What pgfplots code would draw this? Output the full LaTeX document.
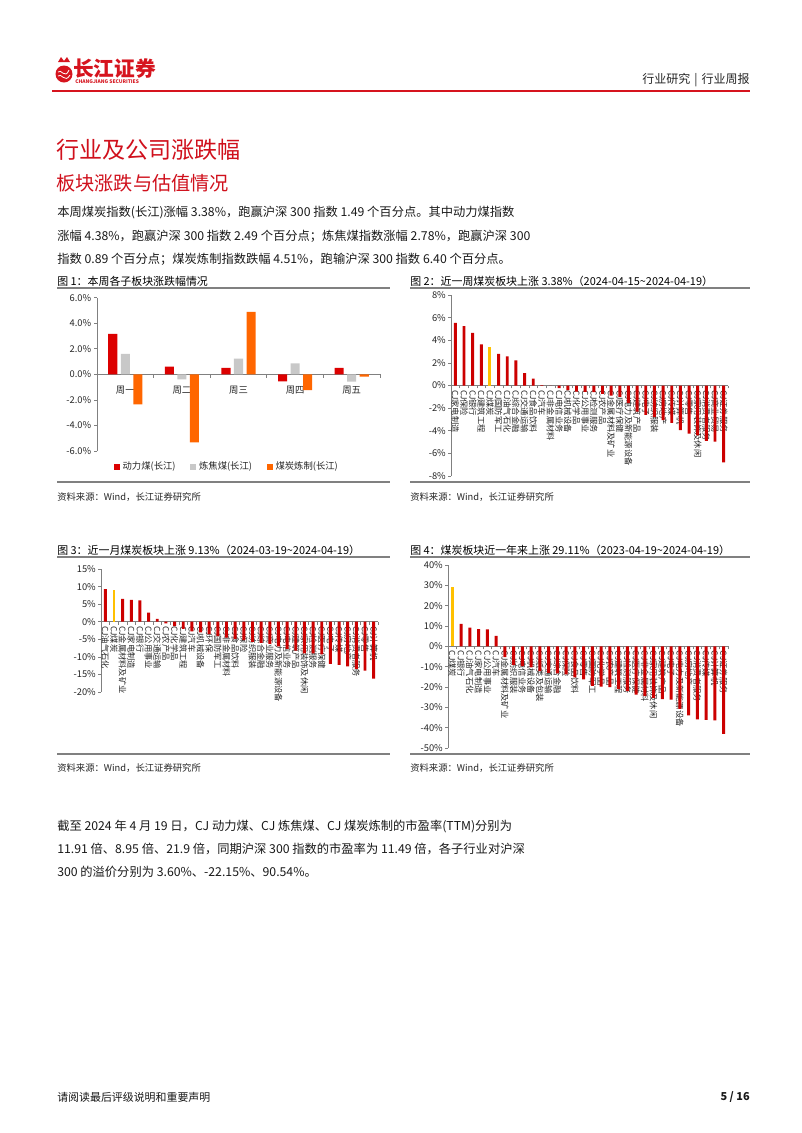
\documentclass[border=0pt]{standalone}
\usepackage{fontspec}
\setmainfont{Noto Sans CJK SC}
\usepackage{pgfplots}
\pgfplotsset{compat=1.18}
\definecolor{cjred}{RGB}{204,0,0}
\definecolor{f1red}{RGB}{220,0,0}
\definecolor{f1gray}{RGB}{200,200,200}
\definecolor{f1orange}{RGB}{255,102,0}
\definecolor{cjyellow}{RGB}{255,192,0}
\definecolor{titlered}{RGB}{208,16,28}
\definecolor{logored}{RGB}{214,20,30}
\definecolor{axgray}{RGB}{128,128,128}
\pgfplotsset{
  cjbar/.style={
    scale only axis, anchor=south west, clip=false,
    axis y line=left, axis x line=middle,
    axis line style={-, draw=axgray, line width=0.6pt},
    hide obscured x ticks=false, hide obscured y ticks=false,
    tick align=outside,
    major tick length=2.2pt, minor tick length=2.2pt,
    tick style={draw=axgray, line width=0.5pt},
    major x tick style={draw=none},
    yticklabel style={font=\fontsize{7}{8}\selectfont, text=black!85, inner sep=1.5pt},
    xticklabel style={font=\fontsize{6.2}{7}\selectfont, rotate=-90, anchor=west, inner sep=1pt, text=black!85},
    xmin=-0.5, xmax=31.5, xtick={0,...,31}, minor xtick={-0.5,0.5,...,31.5},
  }
}
\newcommand{\srcfont}{\fontsize{7}{8}\selectfont}
\newcommand{\figfont}{\fontsize{8.2}{9}\selectfont}
\newcommand{\bodyfont}{\fontsize{9.2}{10}\selectfont}
\begin{document}
\begin{tikzpicture}
\useasboundingbox (0,0) rectangle (601.5pt,-849.75pt);
\fill[white] (0,0) rectangle (601.5pt,-849.75pt);
\begin{scope}[x=0.75pt,y=-0.75pt]
  % header
  \fill[logored] (64,74) circle (8.5);
  \fill[logored] (58,62) -- (61,57) -- (64,61) -- (67,57) -- (70,62) -- cycle;
  \draw[white, line width=0.6pt] (58,72) .. controls (61,68) and (65,80) .. (69,70);
  \draw[white, line width=0.6pt] (58,76) .. controls (61,72) and (65,84) .. (70,75);
  \node[anchor=west, text=logored, font=\fontsize{15.5}{16}\selectfont\bfseries, inner sep=0] at (73,69) {长江证券};
  \node[anchor=west, text=logored, font=\fontsize{3.7}{4}\selectfont\bfseries, inner sep=0] at (75,82) {CHANGJIANG SECURITIES};
  \node[anchor=east, font=\fontsize{9}{10}\selectfont, text=black!85, inner sep=0] at (750,80) {行业研究\hspace{3pt}|\hspace{3pt}行业周报};
  \draw[logored, line width=1.6pt] (52,91) -- (750,91);
  % titles
  \node[anchor=west, text=titlered, font=\fontsize{17.3}{18}\selectfont, inner sep=0] at (56,150) {行业及公司涨跌幅};
  \node[anchor=west, text=titlered, font=\fontsize{14.4}{15}\selectfont, inner sep=0] at (56,183) {板块涨跌与估值情况};
  \node[anchor=west, font=\bodyfont, text=black!90, inner sep=0] at (57,212) {本周煤炭指数(长江)涨幅 3.38\%，跑赢沪深 300 指数 1.49 个百分点。其中动力煤指数};
  \node[anchor=west, font=\bodyfont, text=black!90, inner sep=0] at (57,236) {涨幅 4.38\%，跑赢沪深 300 指数 2.49 个百分点；炼焦煤指数涨幅 2.78\%，跑赢沪深 300};
  \node[anchor=west, font=\bodyfont, text=black!90, inner sep=0] at (57,259) {指数 0.89 个百分点；煤炭炼制指数跌幅 4.51\%，跑输沪深 300 指数 6.40 个百分点。};
  % figure frames
  \node[anchor=west, font=\figfont, inner sep=0] at (57,281) {图 1：本周各子板块涨跌幅情况};
  \draw[axgray, line width=1pt] (57,288) -- (390,288);
  \draw[axgray, line width=1pt] (57,482) -- (390,482);
  \node[anchor=west, font=\srcfont, text=black!85, inner sep=0] at (57,497) {资料来源：Wind，长江证券研究所};
  \node[anchor=west, font=\figfont, inner sep=0] at (410,281) {图 2：近一周煤炭板块上涨 3.38\%（2024-04-15\textasciitilde2024-04-19）};
  \draw[axgray, line width=1pt] (410,288) -- (750,288);
  \draw[axgray, line width=1pt] (410,482) -- (750,482);
  \node[anchor=west, font=\srcfont, text=black!85, inner sep=0] at (410,497) {资料来源：Wind，长江证券研究所};
  \node[anchor=west, font=\figfont, inner sep=0] at (57,550) {图 3：近一月煤炭板块上涨 9.13\%（2024-03-19\textasciitilde2024-04-19）};
  \draw[axgray, line width=1pt] (57,557) -- (390,557);
  \draw[axgray, line width=1pt] (57,754) -- (390,754);
  \node[anchor=west, font=\srcfont, text=black!85, inner sep=0] at (57,768) {资料来源：Wind，长江证券研究所};
  \node[anchor=west, font=\figfont, inner sep=0] at (410,550) {图 4：煤炭板块近一年来上涨 29.11\%（2023-04-19\textasciitilde2024-04-19）};
  \draw[axgray, line width=1pt] (410,557) -- (750,557);
  \draw[axgray, line width=1pt] (410,754) -- (750,754);
  \node[anchor=west, font=\srcfont, text=black!85, inner sep=0] at (410,768) {资料来源：Wind，长江证券研究所};
  % second paragraph
  \node[anchor=west, font=\bodyfont, text=black!90, inner sep=0] at (57,826) {截至 2024 年 4 月 19 日，CJ 动力煤、CJ 炼焦煤、CJ 煤炭炼制的市盈率(TTM)分别为};
  \node[anchor=west, font=\bodyfont, text=black!90, inner sep=0] at (57,849) {11.91 倍、8.95 倍、21.9 倍，同期沪深 300 指数的市盈率为 11.49 倍，各子行业对沪深};
  \node[anchor=west, font=\bodyfont, text=black!90, inner sep=0] at (57,872) {300 的溢价分别为 3.60\%、-22.15\%、90.54\%。};
  % footer
  \node[anchor=west, font=\figfont, text=black!90, inner sep=0] at (57,1097) {请阅读最后评级说明和重要声明};
  \node[anchor=east, font=\figfont\bfseries, text=black!90, inner sep=0] at (750,1097) {5 / 16};
\end{scope}

% ---------------- Figure 1 ----------------
\begin{axis}[
  at={(72.75pt,-338.25pt)}, anchor=south west, scale only axis, clip=false,
  width=212.25pt, height=115pt,
  xmin=-0.5, xmax=4.5, ymin=-6, ymax=6,
  axis y line=left, axis x line=middle,
  axis line style={-, draw=axgray, line width=0.6pt},
  hide obscured x ticks=false, hide obscured y ticks=false,
  tick align=outside, major tick length=2.2pt, minor tick length=2.5pt,
  tick style={draw=axgray, line width=0.5pt},
  major x tick style={draw=none},
  ytick={-6,-4,...,6},
  yticklabels={-6.0\%,-4.0\%,-2.0\%,0.0\%,2.0\%,4.0\%,6.0\%},
  yticklabel style={font=\fontsize{7}{8}\selectfont, text=black!85, inner sep=2pt},
  xtick={0,...,4}, minor xtick={0.5,1.5,2.5,3.5,4.5},
  xticklabels={周一,周二,周三,周四,周五},
  xticklabel style={font=\fontsize{7}{8}\selectfont, text=black!85, yshift=-3pt},
  legend style={at={(0.46,-0.035)}, anchor=north, draw=none, fill=none,
    legend columns=3, font=\fontsize{7}{8}\selectfont, text=black!85,
    /tikz/every even column/.append style={column sep=9pt}},
]
\addplot[ybar, bar width=6.8pt, bar shift=-9.4pt, fill=f1red, draw=none,
  legend image code/.code={\fill[f1red] (0pt,-2.2pt) rectangle (4.6pt,2.4pt);}]
  coordinates {(0,3.16) (1,0.60) (2,0.50) (3,-0.55) (4,0.50)};
\addplot[ybar, bar width=6.8pt, bar shift=0pt, fill=f1gray, draw=none,
  legend image code/.code={\fill[f1gray] (0pt,-2.2pt) rectangle (4.6pt,2.4pt);}]
  coordinates {(0,1.60) (1,-0.40) (2,1.23) (3,0.86) (4,-0.57)};
\addplot[ybar, bar width=6.8pt, bar shift=9.4pt, fill=f1orange, draw=none,
  legend image code/.code={\fill[f1orange] (0pt,-2.2pt) rectangle (4.6pt,2.4pt);}]
  coordinates {(0,-2.35) (1,-5.32) (2,4.88) (3,-1.23) (4,-0.18)};
\legend{动力煤(长江),炼焦煤(长江),煤炭炼制(长江)}
\end{axis}

% ---------------- Figure 2 ----------------
\begin{axis}[cjbar,
  at={(338.25pt,-357pt)}, width=207.75pt, height=135.75pt,
  ymin=-8, ymax=8, ytick={-8,-6,...,8},
  yticklabels={-8\%,-6\%,-4\%,-2\%,0\%,2\%,4\%,6\%,8\%},
  xticklabels={CJ家电制造,CJ保险,CJ银行,CJ建筑工程,CJ煤炭,CJ国防军工,CJ油气石化,CJ综合金融,CJ交通运输,CJ食品饮料,CJ汽车,CJ非金属材料,CJ电信业务,CJ机械设备,CJ化学品,CJ公用事业,CJ检测服务,CJ农产品,CJ金属材料及矿业,CJ医疗保健,CJ电力及新能源设备,CJ建筑产品,CJ电子,CJ纺织服装,CJ房地产,CJ传媒,CJ计算机,CJ零售,CJ家用装饰及休闲,CJ消费者服务,CJ商业贸易,CJ证券服务},
]
\addplot[ybar, bar shift=0pt, bar width=2.2pt, fill=cjred, draw=none] coordinates {
(0,5.54) (1,5.24) (2,4.65) (3,3.64) (5,2.79) (6,2.58) (7,2.22) (8,1.10) (9,0.62)
(10,0.03) (11,-0.02) (12,-0.22) (13,-0.40) (14,-0.55) (15,-0.56) (16,-0.58) (17,-0.75)
(18,-0.90) (19,-1.00) (20,-1.55) (21,-2.30) (22,-2.60) (23,-2.80) (24,-3.05) (25,-3.30)
(26,-3.95) (27,-4.25) (28,-4.40) (29,-4.90) (30,-4.95) (31,-6.80)};
\addplot[ybar, bar shift=0pt, bar width=2.2pt, fill=cjyellow, draw=none] coordinates {(4,3.38)};
\end{axis}

% ---------------- Figure 3 ----------------
\begin{axis}[cjbar,
  at={(75.75pt,-519pt)}, width=207.75pt, height=92.25pt,
  ymin=-20, ymax=15, ytick={-20,-15,...,15},
  yticklabels={-20\%,-15\%,-10\%,-5\%,0\%,5\%,10\%,15\%},
  xticklabels={CJ油气石化,CJ煤炭,CJ金属材料及矿业,CJ家电制造,CJ银行,CJ公用事业,CJ交通运输,CJ农产品,CJ化学品,CJ建筑工程,CJ汽车,CJ机械设备,CJ环保,CJ国防军工,CJ非金属材料,CJ食品饮料,CJ保险,CJ纺织服装,CJ综合金融,CJ商业服务,CJ电力及新能源设备,CJ电信业务,CJ建筑产品,CJ家用装饰及休闲,CJ检测服务,CJ医疗保健,CJ电子,CJ传媒,CJ房地产,CJ消费者服务,CJ零售,CJ计算机},
]
\addplot[ybar, bar shift=0pt, bar width=2.2pt, fill=cjred, draw=none] coordinates {
(0,9.30) (2,6.50) (3,6.20) (4,6.10) (5,2.60) (6,0.80) (7,-0.45) (8,-1.25) (9,-2.05)
(10,-2.75) (11,-3.00) (12,-3.50) (13,-4.10) (14,-4.50) (15,-4.90) (16,-5.20) (17,-5.70)
(18,-6.00) (19,-6.30) (20,-7.00) (21,-7.70) (22,-8.20) (23,-9.00) (24,-9.00) (25,-9.30)
(26,-12.00) (27,-12.30) (28,-12.70) (29,-13.40) (30,-13.90) (31,-16.20)};
\addplot[ybar, bar shift=0pt, bar width=2.2pt, fill=cjyellow, draw=none] coordinates {(1,9.13)};
\end{axis}

% ---------------- Figure 4 ----------------
\begin{axis}[cjbar,
  at={(336pt,-561pt)}, width=210pt, height=137.25pt,
  ymin=-50, ymax=40, ytick={-50,-40,...,40},
  yticklabels={-50\%,-40\%,-30\%,-20\%,-10\%,0\%,10\%,20\%,30\%,40\%},
  xticklabels={CJ煤炭,CJ银行,CJ油气石化,CJ家电制造,CJ公用事业,CJ汽车,CJ金属材料及矿业,CJ纺织服装,CJ电信业务,CJ机械设备,CJ纸类及包装,CJ交通运输,CJ综合金融,CJ保险,CJ食品饮料,CJ零售,CJ国防军工,CJ化学品,CJ农产品,CJ建筑工程,CJ检测服务,CJ医疗保健,CJ非金属材料,CJ家用装饰及休闲,CJ建筑产品,CJ电子,CJ电力及新能源设备,CJ房地产,CJ消费者服务,CJ传媒,CJ计算机,CJ证券服务},
]
\addplot[ybar, bar shift=0pt, bar width=2.2pt, fill=cjred, draw=none] coordinates {
(1,11.10) (2,9.20) (3,8.50) (4,8.40) (5,5.20) (6,-5.30) (7,-9.20) (8,-9.70) (9,-10.40)
(10,-12.20) (11,-13.00) (12,-13.30) (13,-13.80) (14,-15.30) (15,-16.20) (16,-19.50)
(17,-19.80) (18,-20.00) (19,-21.00) (20,-22.00) (21,-23.80) (22,-24.50) (23,-25.50)
(24,-26.00) (25,-26.20) (26,-30.80) (27,-34.00) (28,-35.90) (29,-36.20) (30,-36.40) (31,-43.10)};
\addplot[ybar, bar shift=0pt, bar width=2.2pt, fill=cjyellow, draw=none] coordinates {(0,29.11)};
\end{axis}
\end{tikzpicture}
\end{document}
